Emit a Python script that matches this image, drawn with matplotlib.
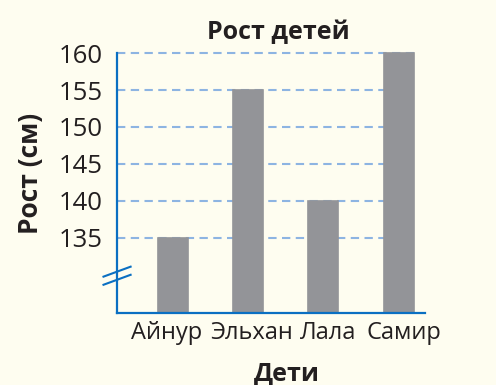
import numpy as np
import matplotlib
matplotlib.use('Agg')
import matplotlib.pyplot as plt
from matplotlib.transforms import ScaledTranslation

# data
children = ['Айнур', 'Эльхан', 'Лала', 'Самир']
heights = [135, 155, 140, 160]
yticks = [135, 140, 145, 150, 155, 160]

bg = '#fefdf0'
bar_color = '#939498'
axis_blue = '#0a6fc2'
grid_blue = '#8db4e2'
txt = '#231f20'

plt.rcParams['font.family'] = ['Open Sans', 'DejaVu Sans']

fig = plt.figure(figsize=(4.96, 3.85), dpi=100, facecolor=bg)
ax = fig.add_axes([0.236, 0.187, 0.621, 0.675], facecolor=bg)

ax.set_xlim(-0.74, 3.35)
ax.set_ylim(124.8, 160)

x = np.arange(len(children))
# bars start below the broken axis; thin edge hides the guide line at the top
bars = ax.bar(x, np.array(heights) - 124.8, bottom=124.8, width=0.40, color=bar_color,
              edgecolor=bar_color, linewidth=1.2, zorder=3)
for b in bars:
    b.set_clip_on(False)

# dashed guide lines behind bars
ax.hlines(yticks, -0.74, 3.2, colors=grid_blue, linestyles=(0, (4, 2.6)), linewidth=1.5,
          zorder=1, clip_on=False)

ax.set_xticks(x)
ax.set_xticklabels(children, fontsize=17, color=txt)
ax.set_yticks(yticks)
ax.set_yticklabels([str(v) for v in yticks], fontsize=18.5, color=txt)
ax.tick_params(axis='both', length=0)
ax.tick_params(axis='y', pad=10)
ax.tick_params(axis='x', pad=6)

# labels in the picture sit a bit off the bar centres
for lab, dx in zip(ax.get_xticklabels(), [-6, 4, 5, 5]):
    lab.set_transform(lab.get_transform() + ScaledTranslation(dx / 100, 0, fig.dpi_scale_trans))

for side in ['top', 'right']:
    ax.spines[side].set_visible(False)
for side in ['left', 'bottom']:
    ax.spines[side].set_color(axis_blue)
    ax.spines[side].set_linewidth(1.6)
    ax.spines[side].set_zorder(4)

# axis break marks
for yc in [130.4, 129.3]:
    ax.plot([-0.92, -0.56], [yc - 0.675, yc + 0.675], color=axis_blue, lw=1.5,
            clip_on=False, zorder=5)

ax.set_title('Рост детей', fontsize=18, fontweight='bold', color=txt, pad=10, x=0.523)
ax.set_xlabel('Дети', fontsize=18, fontweight='bold', color=txt, labelpad=11)
ax.xaxis.label.set_x(0.552)
ax.set_ylabel('Рост (см)', fontsize=19, fontweight='bold', color=txt, labelpad=11)
ax.yaxis.label.set_y(0.538)

fig.savefig('out.png', dpi=100, facecolor=bg)
